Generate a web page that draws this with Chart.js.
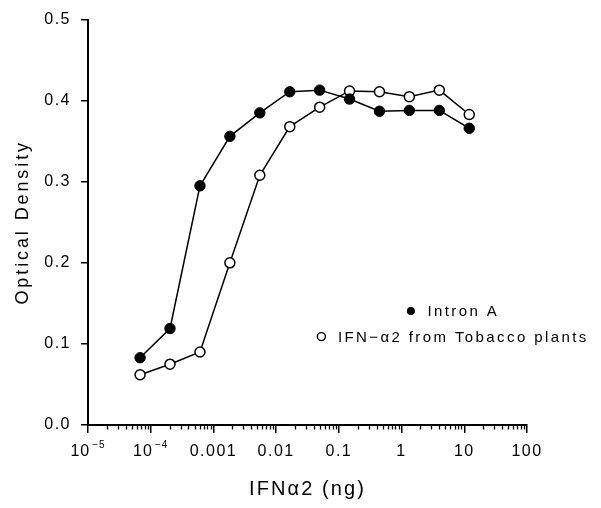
<!DOCTYPE html>
<html><head><meta charset="utf-8">
<script src="https://cdn.jsdelivr.net/npm/chart.js@4/dist/chart.umd.min.js"></script>
<style>html,body{margin:0;padding:0;background:#fff}</style>
</head><body>
<canvas id="c" width="601" height="508"></canvas>
<script>
// ---- data ----
const doses = [0.0000677, 0.000203, 0.00061, 0.00183, 0.00549, 0.0165, 0.0494, 0.148, 0.444, 1.33, 4, 12];
const intronA = [0.083, 0.119, 0.295, 0.356, 0.385, 0.411, 0.413, 0.402, 0.387, 0.388, 0.388, 0.366];
const tobacco = [0.062, 0.075, 0.090, 0.200, 0.308, 0.368, 0.392, 0.412, 0.411, 0.405, 0.413, 0.383];
const seriesNames = ['Intron A', 'IFN\u2212\u03b12 from Tobacco plants'];
const xTickValues = [1e-5, 1e-4, 1e-3, 1e-2, 1e-1, 1, 10, 100];
// labels with an exponent are given as [base, exponent]
const xTickLabels = [['10', '\u22125'], ['10', '\u22124'], '0.001', '0.01', '0.1', '1', '10', '100'];
const yTickValues = [0, 0.1, 0.2, 0.3, 0.4, 0.5];
const yTickLabels = ['0.0', '0.1', '0.2', '0.3', '0.4', '0.5'];
const xTitle = 'IFN\u03b12 (ng)';
const yTitle = 'Optical Density';

const FONT = "'Liberation Sans', Arial, sans-serif";

const spacingPlugin = {
  id: 'spacing',
  beforeLayout(chart) { chart.ctx.letterSpacing = '1.5px'; },
  beforeDraw(chart) { chart.ctx.letterSpacing = '1.5px'; }
};

const minorTicks = {
  id: 'minorTicks',
  afterDraw(chart) {
    const x = chart.scales.x, ctx = chart.ctx, b = chart.chartArea.bottom;
    ctx.save();
    ctx.strokeStyle = '#000';
    ctx.lineWidth = 1.3;
    for (let e = -5; e < 2; e++) {
      for (let k = 2; k <= 9; k++) {
        const px = Math.round(x.getPixelForValue(k * Math.pow(10, e))) + 0.5;
        ctx.beginPath();
        ctx.moveTo(px, b);
        ctx.lineTo(px, b + 4.5);
        ctx.stroke();
      }
    }
    ctx.restore();
  }
};

const powerLabels = {
  id: 'powerLabels',
  afterDraw(chart) {
    const x = chart.scales.x, ctx = chart.ctx, b = chart.chartArea.bottom;
    ctx.save();
    ctx.fillStyle = '#000';
    ctx.textBaseline = 'alphabetic';
    ctx.textAlign = 'left';
    xTickValues.forEach((v, i) => {
      const lab = xTickLabels[i];
      if (!Array.isArray(lab)) return;
      ctx.letterSpacing = '1px';
      ctx.font = '16px ' + FONT;
      const wb = ctx.measureText(lab[0]).width;
      ctx.font = '10px ' + FONT;
      const we = ctx.measureText(lab[1]).width;
      const px = x.getPixelForValue(v);
      const start = px - (wb + 2 + we) / 2;
      ctx.font = '16px ' + FONT;
      ctx.fillText(lab[0], start, b + 31);
      ctx.font = '10px ' + FONT;
      ctx.fillText(lab[1], start + wb + 2, b + 23);
    });
    ctx.restore();
  }
};

const legendPlugin = {
  id: 'customLegend',
  afterDraw(chart) {
    const ctx = chart.ctx, ca = chart.chartArea;
    const cx = ca.right - 76;
    const rows = [ca.top + 291.5, ca.top + 317];
    ctx.save();
    ctx.letterSpacing = '2.4px';
    ctx.font = '15px ' + FONT;
    ctx.textBaseline = 'middle';
    ctx.textAlign = 'left';
    chart.data.datasets.forEach((ds, i) => {
      const tw = ctx.measureText(ds.label).width;
      const total = 16.5 + tw;
      const mx = cx - total / 2 + 4;
      const y = rows[i];
      ctx.beginPath();
      ctx.arc(mx, y, 4, 0, Math.PI * 2);
      if (i === 0) { ctx.fillStyle = '#000'; ctx.fill(); }
      else { ctx.fillStyle = '#fff'; ctx.fill(); ctx.lineWidth = 1.4; ctx.strokeStyle = '#000'; ctx.stroke(); }
      ctx.fillStyle = '#000';
      ctx.fillText(ds.label, mx + 16.5, y + 1);
    });
    ctx.restore();
  }
};

new Chart(document.getElementById('c'), {
  type: 'scatter',
  data: {
    datasets: [
      {
        label: seriesNames[0],
        data: doses.map((d, i) => ({ x: d, y: intronA[i] })),
        showLine: true,
        borderColor: '#000',
        borderWidth: 1.5,
        pointRadius: 5.2,
        pointBackgroundColor: '#000',
        pointBorderColor: '#000',
        pointBorderWidth: 1
      },
      {
        label: seriesNames[1],
        data: doses.map((d, i) => ({ x: d, y: tobacco[i] })),
        showLine: true,
        borderColor: '#000',
        borderWidth: 1.5,
        pointRadius: 5,
        pointBackgroundColor: '#fff',
        pointBorderColor: '#000',
        pointBorderWidth: 1.5
      }
    ]
  },
  options: {
    responsive: false,
    animation: false,
    devicePixelRatio: 1,
    layout: { padding: { top: 19, right: 74, left: 0, bottom: 0 } },
    plugins: { legend: { display: false }, tooltip: { enabled: false } },
    scales: {
      x: {
        type: 'logarithmic',
        min: 1e-5,
        max: 100,
        afterBuildTicks(scale) { scale.ticks = xTickValues.map(v => ({ value: v, major: true })); },
        afterFit(scale) { scale.height = 83; },
        ticks: {
          autoSkip: false,
          maxRotation: 0,
          padding: 9,
          color: '#000',
          font: { family: FONT, size: 16 },
          callback: (v, i) => (Array.isArray(xTickLabels[i]) ? '' : xTickLabels[i])
        },
        grid: { drawOnChartArea: false, drawTicks: true, tickLength: 8, tickColor: '#000', tickWidth: 1.5, lineWidth: 1.5, color: '#000' },
        border: { display: true, color: '#000', width: 2 },
        title: { display: true, text: xTitle, color: '#000', font: { family: FONT, size: 20 }, padding: { top: 0, bottom: 6.5 } }
      },
      y: {
        type: 'linear',
        min: 0,
        max: 0.5,
        afterBuildTicks(scale) { scale.ticks = yTickValues.map(v => ({ value: v })); },
        afterFit(scale) { scale.width = 88; },
        ticks: {
          padding: 10,
          color: '#000',
          font: { family: FONT, size: 16 },
          callback: (v, i) => yTickLabels[i]
        },
        grid: { drawOnChartArea: false, drawTicks: true, tickLength: 7, tickColor: '#000', tickWidth: 1.5, lineWidth: 1.5, color: '#000' },
        border: { display: true, color: '#000', width: 2 },
        title: { display: true, text: yTitle, color: '#000', font: { family: FONT, size: 18 }, padding: { top: 12, bottom: 0 } }
      }
    }
  },
  plugins: [
    spacingPlugin,
    {
      id: 'titleSpacing',
      beforeDraw(chart) {
        const ctx = chart.ctx;
        const y = chart.scales.y, x = chart.scales.x;
        const oy = y.drawTitle, ox = x.drawTitle;
        if (!y._wrapped) {
          y.drawTitle = function () { ctx.save(); ctx.letterSpacing = '2.9px'; oy.call(this); ctx.restore(); };
          x.drawTitle = function () { ctx.save(); ctx.letterSpacing = '2.1px'; ox.call(this); ctx.restore(); };
          y._wrapped = true;
        }
      }
    },
    minorTicks, powerLabels, legendPlugin
  ]
});
</script>
</body></html>
